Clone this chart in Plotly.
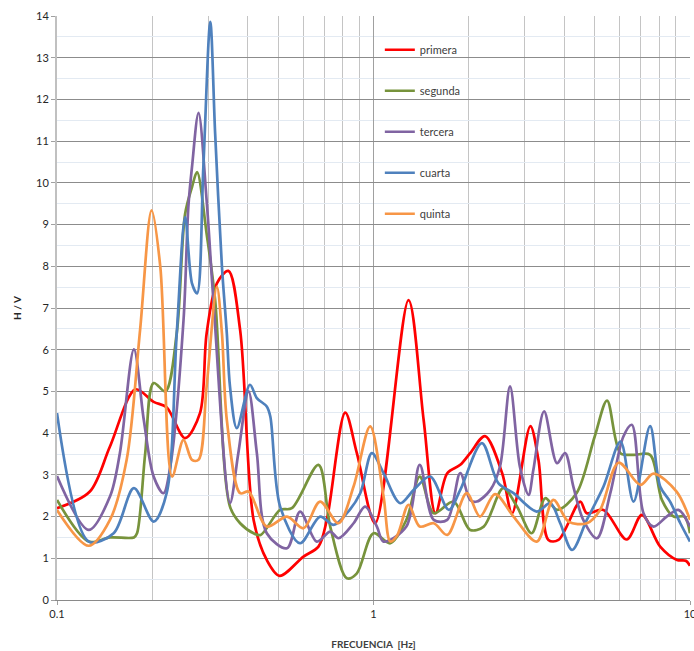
import plotly.graph_objects as go

# ---- data ----
primera_f = [0.1, 0.127, 0.147, 0.177, 0.202, 0.222, 0.254, 0.283, 0.297, 0.32, 0.348, 0.379, 0.418, 0.46, 0.505,
             0.601, 0.67, 0.712, 0.814, 0.886, 1.012, 1.29, 1.44, 1.57, 1.71, 1.88, 2.02, 2.25, 2.55, 2.74, 3.13,
             3.32, 3.57, 3.84, 4.50, 4.72, 5.33, 6.31, 7.05, 8.05, 9.1, 9.7, 10]
primera_v = [2.2, 2.6, 3.68, 5.05, 4.75, 4.62, 3.88, 4.48, 6.39, 7.59, 7.89, 6.47, 1.92, 0.96, 0.58,
             1.04, 1.28, 1.92, 4.49, 3.52, 1.84, 7.19, 4.32, 2.08, 3.04, 3.24, 3.52, 3.93, 3.04, 2.08, 4.17,
             3.36, 1.44, 1.44, 2.36, 2.08, 2.16, 1.45, 2.04, 1.28, 0.96, 0.94, 0.82]

segunda_f = [0.1, 0.126, 0.147, 0.175, 0.179, 0.19, 0.202, 0.22, 0.239, 0.254, 0.267, 0.277, 0.297, 0.316, 0.352,
             0.379, 0.418, 0.44, 0.507, 0.552, 0.67, 0.73, 0.824, 0.886, 1.0, 1.13, 1.27, 1.40, 1.55, 1.79, 2.02,
             2.23, 2.57, 2.84, 3.16, 3.49, 3.8, 4.38, 5.0, 5.47, 6.03, 6.63, 7.48, 8.15, 8.88, 9.6, 10]
segunda_v = [2.4, 1.4, 1.5, 1.5, 1.6, 3.52, 5.2, 5.0, 6.4, 9.26, 9.9, 10.26, 8.78, 7.19, 2.24,
             1.84, 1.6, 1.56, 2.16, 2.2, 3.24, 1.76, 0.52, 0.64, 1.6, 1.36, 1.92, 2.96, 2.08, 2.36, 1.68,
             1.76, 2.68, 2.24, 1.6, 2.44, 2.16, 2.56, 3.92, 4.78, 3.52, 3.48, 3.48, 2.4, 2.0, 2.0, 1.6]

tercera_f = [0.1, 0.126, 0.147, 0.158, 0.175, 0.188, 0.202, 0.217, 0.228, 0.251, 0.26, 0.267, 0.28, 0.297, 0.312,
             0.352, 0.374, 0.403, 0.428, 0.46, 0.533, 0.586, 0.662, 0.73, 0.775, 0.865, 0.941, 1.025, 1.076,
             1.27, 1.40, 1.55, 1.71, 1.88, 2.02, 2.12, 2.34, 2.51, 2.70, 2.9, 3.09, 3.2, 3.46, 3.8, 4.03, 4.28,
             4.6, 5.08, 5.6, 6.16, 6.55, 7.13, 7.67, 8.44, 9.19, 10]
tercera_v = [2.97, 1.68, 2.48, 3.52, 6.01, 4.32, 2.96, 2.56, 3.2, 6.7, 9.42, 10.38, 11.68, 9.58, 7.19,
             2.32, 3.52, 5.0, 3.52, 1.6, 1.24, 2.12, 1.4, 1.64, 1.48, 1.84, 2.24, 1.76, 1.4,
             1.76, 3.24, 1.92, 1.92, 3.04, 2.4, 2.36, 2.64, 3.2, 5.12, 3.2, 2.52, 3.12, 4.52, 3.28, 3.52, 2.72,
             1.92, 1.48, 2.56, 3.92, 4.2, 2.08, 1.76, 2.0, 2.16, 1.76]

cuarta_f = [0.1, 0.126, 0.151, 0.175, 0.202, 0.222, 0.239, 0.254, 0.267, 0.277, 0.29, 0.305, 0.316, 0.332, 0.344,
            0.352, 0.37, 0.407, 0.428, 0.46, 0.472, 0.507, 0.586, 0.678, 0.748, 0.824, 0.908, 0.988, 1.076, 1.214,
            1.34, 1.51, 1.73, 1.88, 2.2, 2.48, 2.77, 3.28, 3.62, 3.89, 4.24, 4.72, 5.33, 6.03, 6.63, 7.48,
            8.05, 8.65, 9.32, 10]
cuarta_v = [4.48, 1.4, 1.6, 2.68, 1.88, 2.56, 6.4, 9.18, 7.59, 7.35, 10.38, 13.86, 11.18, 7.99, 6.39,
            5.12, 4.12, 5.16, 4.84, 4.64, 4.4, 2.24, 1.36, 2.0, 1.8, 2.08, 2.56, 3.52, 3.04, 2.32,
            2.64, 2.96, 2.16, 2.64, 3.76, 2.8, 2.56, 2.12, 2.32, 1.84, 1.2, 1.92, 2.72, 3.8, 2.36, 4.17,
            2.72, 2.36, 1.84, 1.4]

quinta_f = [0.1, 0.126, 0.147, 0.166, 0.183, 0.199, 0.212, 0.231, 0.251, 0.267, 0.28, 0.297, 0.32, 0.332, 0.344,
            0.379, 0.403, 0.46, 0.533, 0.601, 0.678, 0.775, 0.865, 0.976, 1.076, 1.13, 1.19, 1.29, 1.40, 1.55,
            1.71, 1.97, 2.17, 2.42, 2.77, 3.28, 3.7, 4.13, 4.72, 5.2, 5.95, 6.97, 7.67, 9.07, 10]
quinta_v = [2.16, 1.3, 1.92, 3.36, 6.47, 9.34, 7.99, 2.96, 3.84, 3.36, 3.36, 5.12, 7.51, 6.39, 4.32,
            2.56, 2.6, 1.76, 2.0, 1.72, 2.36, 1.84, 2.72, 4.16, 2.48, 1.4, 1.56, 2.28, 1.76, 1.84,
            1.56, 2.56, 2.0, 2.54, 2.0, 1.4, 2.4, 1.88, 1.84, 2.16, 3.29, 2.76, 3.03, 2.6, 1.92]

series = [
    ("primera", primera_f, primera_v, "#FF0000"),
    ("segunda", segunda_f, segunda_v, "#77933C"),
    ("tercera", tercera_f, tercera_v, "#8064A2"),
    ("cuarta", cuarta_f, cuarta_v, "#4F81BD"),
    ("quinta", quinta_f, quinta_v, "#F79646"),
]

x_tickvals = [0.1, 1, 10]
x_ticktext = ["0.1", "1", "10"]
x_minor = [m * d for d in (0.1, 1) for m in range(2, 10)]

fig = go.Figure()
for name, f, v, c in series:
    fig.add_trace(go.Scatter(x=f, y=v, name=name, mode="lines", legendgroup=name,
                             line=dict(color=c, width=2.7, shape="spline", smoothing=0.9)))

font = "Lato, 'Open Sans', sans-serif"
fig.update_layout(
    width=694, height=651,
    margin=dict(l=57, r=4, t=16, b=51),
    paper_bgcolor="white", plot_bgcolor="white",
    font=dict(family=font, size=11, color="#262626"),
    showlegend=True,
    legend=dict(x=0.51, y=0.967, xanchor="left", yanchor="top", bgcolor="rgba(0,0,0,0)",
                tracegroupgap=22, itemwidth=30, font=dict(size=11, color="#404040")),
    xaxis=dict(type="log", range=[-1, 1], tickvals=x_tickvals, ticktext=x_ticktext,
               ticklabeloverflow="allow", automargin=False,
               showgrid=True, gridcolor="#a0a0a0", gridwidth=1,
               minor=dict(tickvals=x_minor, showgrid=True, gridcolor="#c4c4c4", gridwidth=1, ticks=""),
               ticks="outside", ticklen=4, tickcolor="#a0a0a0",
               showline=True, linecolor="#8a8a8a", linewidth=1, zeroline=False,
               title=dict(text="<b>FRECUENCIA  [Hz]</b>", font=dict(size=10, color="#404040"), standoff=21)),
    yaxis=dict(range=[0, 14], dtick=1, showgrid=True, gridcolor="#8c8c8c", gridwidth=1,
               automargin=False,
               minor=dict(dtick=0.5, showgrid=True, gridcolor="#e3eaf2", gridwidth=1, ticks=""),
               ticks="outside", ticklen=4, tickcolor="#a0a0a0",
               showline=True, linecolor="#c0c0c0", linewidth=2, zeroline=False,
               title=dict(text="<b>H / V</b>", font=dict(size=10, color="#262626"), standoff=13)),
)

fig.write_html("out.html", config={"displayModeBar": False},
               post_script="document.body.style.margin='0';")
